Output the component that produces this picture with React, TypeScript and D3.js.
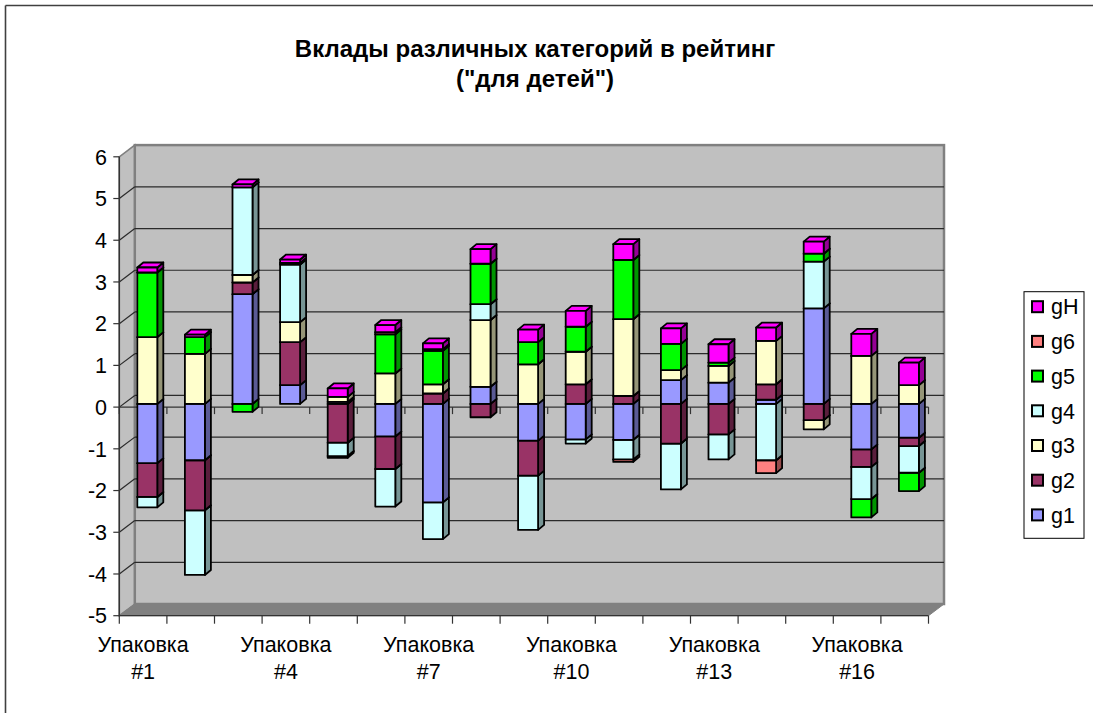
import React from "react";
import * as d3 from "d3";

// Categories (packages) along the x axis
const categories = [
  "Упаковка #1", "Упаковка #2", "Упаковка #3", "Упаковка #4", "Упаковка #5", "Упаковка #6",
  "Упаковка #7", "Упаковка #8", "Упаковка #9", "Упаковка #10", "Упаковка #11", "Упаковка #12",
  "Упаковка #13", "Упаковка #14", "Упаковка #15", "Упаковка #16", "Упаковка #17",
];
// Only every third category gets a label on the axis
const labelledCategories = ["Упаковка #1", "Упаковка #4", "Упаковка #7", "Упаковка #10", "Упаковка #13", "Упаковка #16"];

// Contributions of each rating category, per package
const g1 = [-1.42, -1.35, 2.63, 0.45, 0.05, -0.78, -2.36, 0.41, -0.88, -0.85, -0.86, 0.57, 0.51, 0.1, 2.29, -1.09, -0.81];
const g2 = [-0.81, -1.2, 0.28, 1.03, -0.93, -0.78, 0.25, -0.32, -0.84, 0.47, 0.19, -0.95, -0.73, 0.37, -0.39, -0.42, -0.2];
const g3 = [1.6, 1.2, 0.18, 0.48, 0.12, 0.73, 0.22, 1.6, 0.95, 0.78, 1.84, 0.24, 0.4, 1.04, -0.22, 1.15, 0.45];
const g4 = [-0.25, -1.55, 2.1, 1.38, -0.32, -0.9, -0.88, 0.38, -1.3, -0.1, -0.47, -1.1, -0.6, -1.35, 1.12, -0.77, -0.64];
const g5 = [1.55, 0.4, -0.19, 0.04, -0.04, 0.94, 0.8, 0.97, 0.53, 0.6, 1.42, 0.63, 0.08, 0, 0.19, -0.44, -0.44];
const g6 = [0, 0, 0, 0, 0, 0.05, 0.04, 0, 0, 0, -0.06, 0, 0, -0.31, 0, 0, 0];
const gH = [0.12, 0.06, 0.07, 0.08, 0.2, 0.17, 0.14, 0.35, 0.3, 0.38, 0.38, 0.37, 0.44, 0.32, 0.29, 0.53, 0.54];

const seriesNames = ["g1", "g2", "g3", "g4", "g5", "g6", "gH"];
const seriesValues = [g1, g2, g3, g4, g5, g6, gH];
const seriesColors = ["#9999FF", "#993366", "#FFFFCC", "#CCFFFF", "#00FF00", "#FF8080", "#FF00FF"];

const yTicks = [-5, -4, -3, -2, -1, 0, 1, 2, 3, 4, 5, 6];

const titleLines = ["Вклады различных категорий в рейтинг", "(\"для детей\")"];

const W = 1093;
const H = 713;
const FONT = "'Liberation Sans', Arial, sans-serif";
const LABEL_SIZE = 21.5;

// Plot geometry (front plane of the 3D box)
const X0 = 119.3;
const X1 = 928.5;
const DEPTH = { dx: 15.5, dy: -11.7 }; // front -> back wall
const BAR_SHIFT = { dx: 4.2, dy: -3.2 }; // bars sit a bit behind the front plane
const BAR_W = 20;
const SIDE = { dx: 6, dy: -5 }; // bar depth

type Seg = { key: string; y0: number; y1: number; color: string };

export default function App() {
  const x = d3.scaleBand<string>().domain(categories).range([X0, X1]).padding(0);
  const y = d3.scaleLinear().domain([-5, 6]).range([615.7, 156.8]);

  const yTop = y(6);
  const yBot = y(-5);
  const bx = DEPTH.dx;
  const by = DEPTH.dy;

  const pts = (p: number[][]) => p.map((q) => q.join(",")).join(" ");

  // stacked segments per category: positives upward, negatives downward
  const bars = categories.map((c, ci) => {
    let pos = 0;
    let neg = 0;
    const segs: Seg[] = [];
    seriesValues.forEach((vals, si) => {
      const v = vals[ci];
      if (!v) return;
      if (v > 0) {
        segs.push({ key: seriesNames[si], y0: pos, y1: pos + v, color: seriesColors[si] });
        pos += v;
      } else {
        segs.push({ key: seriesNames[si], y0: neg + v, y1: neg, color: seriesColors[si] });
        neg += v;
      }
    });
    segs.sort((a, b) => a.y0 - b.y0);
    const left = (x(c) as number) + (x.bandwidth() - BAR_W) / 2 + BAR_SHIFT.dx;
    return { c, left, segs };
  });

  const gridVals = yTicks.filter((v) => v > -5 && v < 6);
  const boundaries = d3.range(categories.length + 1).map((i) => X0 + i * x.bandwidth());

  return (
    <svg
      width={W}
      height={H}
      style={{ position: "absolute", left: 0, top: 0, background: "#fff" }}
      fontFamily={FONT}
    >
      {/* chart frame (top and left edges inside the view) */}
      <line x1={5.5} x2={W} y1={5.5} y2={5.5} stroke="#404040" strokeWidth={1.6} />
      <line x1={5.5} x2={5.5} y1={5.5} y2={H} stroke="#404040" strokeWidth={1.6} />

      {/* title */}
      {titleLines.map((t, i) => (
        <text key={t} x={535} y={57 + i * 30} textAnchor="middle" fontWeight="bold" fontSize={24} fill="#000">
          {t}
        </text>
      ))}

      {/* left wall */}
      <polygon
        points={pts([[X0, yTop], [X0 + bx, yTop + by], [X0 + bx, yBot + by], [X0, yBot]])}
        fill="#C0C0C0"
        stroke="#808080"
        strokeWidth={1.5}
      />
      {/* back wall */}
      <rect
        x={X0 + bx}
        y={yTop + by}
        width={X1 - X0}
        height={yBot - yTop}
        fill="#C0C0C0"
        stroke="#808080"
        strokeWidth={2.5}
      />
      {/* floor */}
      <polygon
        points={pts([[X0, yBot], [X0 + bx, yBot + by], [X1 + bx, yBot + by], [X1, yBot]])}
        fill="#808080"
        stroke="#808080"
        strokeWidth={1}
      />

      {/* gridlines on back and left walls */}
      {gridVals.map((v) => (
        <g key={v} stroke="#2a2a2a" strokeWidth={1.2}>
          <line x1={X0 + bx} x2={X1 + bx} y1={y(v) + by} y2={y(v) + by} />
          <line x1={X0} x2={X0 + bx} y1={y(v)} y2={y(v) + by} />
        </g>
      ))}

      {/* value axis */}
      <line x1={X0} x2={X0} y1={yTop} y2={yBot} stroke="#333" strokeWidth={1.5} />
      {yTicks.map((v) => (
        <g key={v}>
          <line x1={X0 - 6} x2={X0} y1={y(v)} y2={y(v)} stroke="#333" strokeWidth={1.2} />
          <text x={107} y={y(v)} dy="0.36em" textAnchor="end" fontSize={LABEL_SIZE} fill="#000">
            {v}
          </text>
        </g>
      ))}

      {/* zero line with category ticks */}
      <line x1={X0} x2={X1} y1={y(0)} y2={y(0)} stroke="#333" strokeWidth={1.3} />
      {boundaries.map((bxp, i) => (
        <line key={"z" + i} x1={bxp} x2={bxp} y1={y(0)} y2={y(0) + 7} stroke="#333" strokeWidth={1.2} />
      ))}

      {/* category axis at the floor */}
      <line x1={X0} x2={X1} y1={yBot} y2={yBot} stroke="#333" strokeWidth={1.3} />
      {boundaries.map((bxp, i) => (
        <line key={"b" + i} x1={bxp} x2={bxp} y1={yBot} y2={yBot + 8} stroke="#333" strokeWidth={1.2} />
      ))}
      {labelledCategories.map((c) => {
        const cx = (x(c) as number) + x.bandwidth() / 2;
        const parts = c.split(" ");
        return (
          <text key={c} x={cx} textAnchor="middle" fontSize={LABEL_SIZE} fill="#000">
            <tspan x={cx} y={652}>{parts[0]}</tspan>
            <tspan x={cx} y={679}>{parts[1]}</tspan>
          </text>
        );
      })}

      {/* stacked 3D columns */}
      {bars.map((b) => (
        <g key={b.c} stroke="#000" strokeWidth={1.8} strokeLinejoin="round">
          {b.segs.map((s) => {
            const top = y(s.y1) + BAR_SHIFT.dy;
            const bot = y(s.y0) + BAR_SHIFT.dy;
            const l = b.left;
            const r = b.left + BAR_W;
            const dark = d3.color(s.color)!.darker(1.5).formatHex();
            return (
              <g key={s.key}>
                <polygon
                  points={pts([[r, bot], [r + SIDE.dx, bot + SIDE.dy], [r + SIDE.dx, top + SIDE.dy], [r, top]])}
                  fill={dark}
                />
                <polygon
                  points={pts([[l, top], [l + SIDE.dx, top + SIDE.dy], [r + SIDE.dx, top + SIDE.dy], [r, top]])}
                  fill={s.color}
                />
                <rect x={l} y={top} width={BAR_W} height={bot - top} fill={s.color} />
              </g>
            );
          })}
        </g>
      ))}

      {/* legend */}
      <rect x={1024} y={291.7} width={60} height={246.6} fill="#fff" stroke="#000" strokeWidth={1} />
      {seriesNames
        .map((n, i) => ({ n, c: seriesColors[i] }))
        .reverse()
        .map((e, i) => {
          const cy = 306.7 + i * 34.7;
          return (
            <g key={e.n}>
              <rect x={1032} y={cy - 5.5} width={11} height={11} fill={e.c} stroke="#000" strokeWidth={2} />
              <text x={1051} y={cy} dy="0.36em" fontSize={LABEL_SIZE} fill="#000">
                {e.n}
              </text>
            </g>
          );
        })}
    </svg>
  );
}
